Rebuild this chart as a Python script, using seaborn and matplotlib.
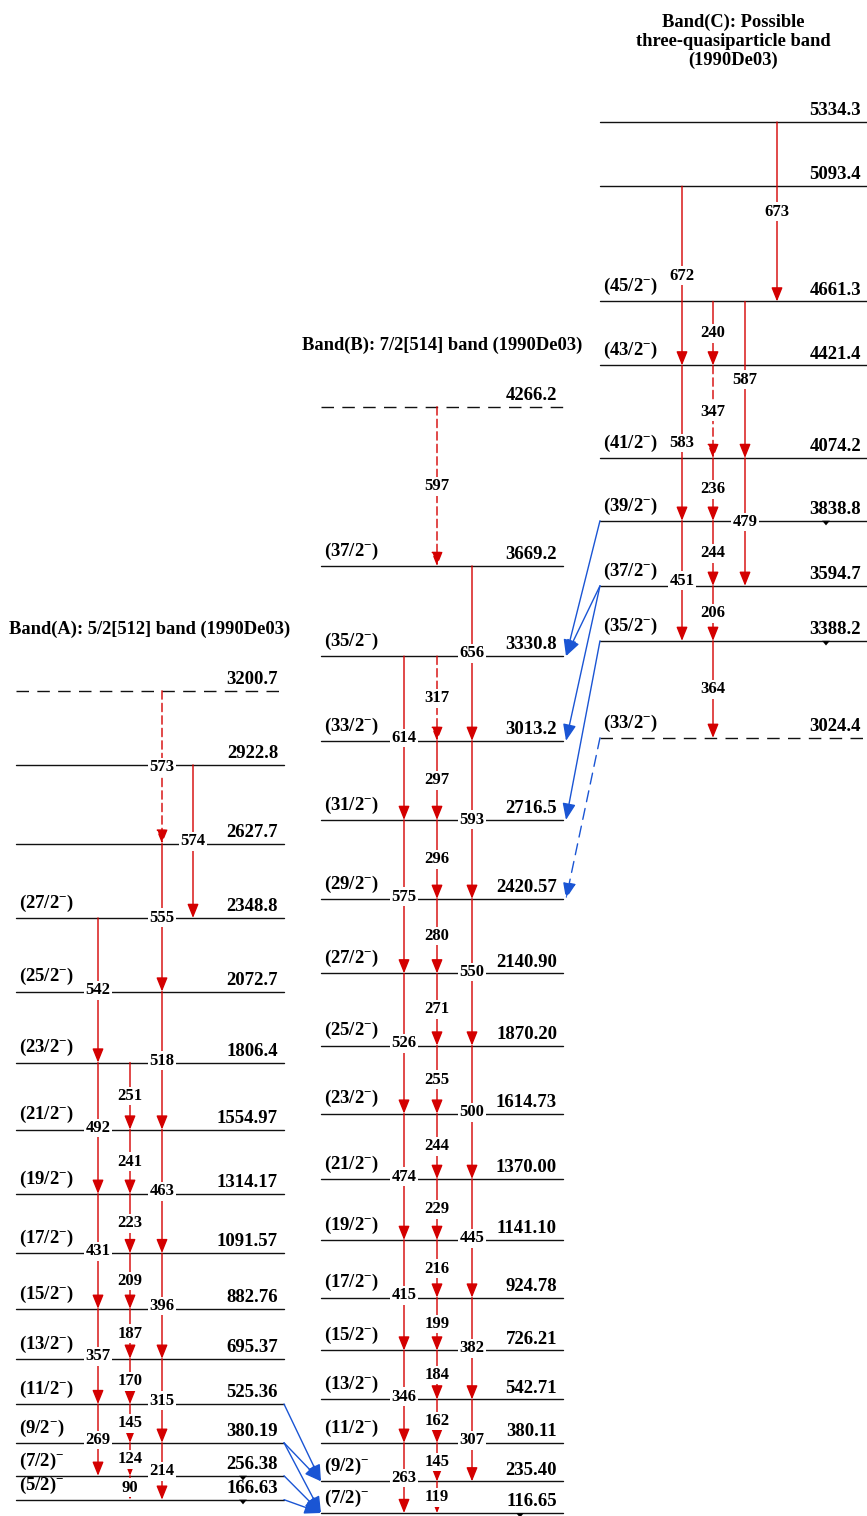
import numpy as np
import pandas as pd
import matplotlib
matplotlib.use('Agg')
import matplotlib.pyplot as plt
from matplotlib.patches import FancyArrowPatch
import seaborn as sns

# ---------------- data ----------------
# Band A: 5/2[512]
a_levels = ['166.63', '256.38', '380.19', '525.36', '695.37', '882.76', '1091.57', '1314.17',
            '1554.97', '1806.4', '2072.7', '2348.8', '2627.7', '2922.8', '3200.7']
a_spins = ['(5/2)$^{-}$', '(7/2)$^{-}$', '(9/2$^{-}$)', '(11/2$^{-}$)', '(13/2$^{-}$)', '(15/2$^{-}$)',
           '(17/2$^{-}$)', '(19/2$^{-}$)', '(21/2$^{-}$)', '(23/2$^{-}$)', '(25/2$^{-}$)', '(27/2$^{-}$)',
           '', '', '']
a_dashed_levels = ['3200.7']
a_out = ['256.38', '166.63']
# (from, to, gamma, column, dashed)
a_gammas = [
    ('2348.8', '1806.4', '542', 0, False), ('1806.4', '1314.17', '492', 0, False),
    ('1314.17', '882.76', '431', 0, False), ('882.76', '525.36', '357', 0, False),
    ('525.36', '256.38', '269', 0, False),
    ('1806.4', '1554.97', '251', 1, False), ('1554.97', '1314.17', '241', 1, False),
    ('1314.17', '1091.57', '223', 1, False), ('1091.57', '882.76', '209', 1, False),
    ('882.76', '695.37', '187', 1, False), ('695.37', '525.36', '170', 1, False),
    ('525.36', '380.19', '145', 1, False), ('380.19', '256.38', '124', 1, False),
    ('256.38', '166.63', '90', 1, False),
    ('3200.7', '2627.7', '573', 2, True), ('2627.7', '2072.7', '555', 2, False),
    ('2072.7', '1554.97', '518', 2, False), ('1554.97', '1091.57', '463', 2, False),
    ('1091.57', '695.37', '396', 2, False), ('695.37', '380.19', '315', 2, False),
    ('380.19', '166.63', '214', 2, False),
    ('2922.8', '2348.8', '574', 3, False),
]

# Band B: 7/2[514]
b_levels = ['116.65', '235.40', '380.11', '542.71', '726.21', '924.78', '1141.10', '1370.00',
            '1614.73', '1870.20', '2140.90', '2420.57', '2716.5', '3013.2', '3330.8', '3669.2', '4266.2']
b_spins = ['(7/2)$^{-}$', '(9/2)$^{-}$', '(11/2$^{-}$)', '(13/2$^{-}$)', '(15/2$^{-}$)', '(17/2$^{-}$)',
           '(19/2$^{-}$)', '(21/2$^{-}$)', '(23/2$^{-}$)', '(25/2$^{-}$)', '(27/2$^{-}$)', '(29/2$^{-}$)',
           '(31/2$^{-}$)', '(33/2$^{-}$)', '(35/2$^{-}$)', '(37/2$^{-}$)', '']
b_dashed_levels = ['4266.2']
b_out = ['116.65']
b_gammas = [
    ('3330.8', '2716.5', '614', 0, False), ('2716.5', '2140.90', '575', 0, False),
    ('2140.90', '1614.73', '526', 0, False), ('1614.73', '1141.10', '474', 0, False),
    ('1141.10', '726.21', '415', 0, False), ('726.21', '380.11', '346', 0, False),
    ('380.11', '116.65', '263', 0, False),
    ('4266.2', '3669.2', '597', 1, True), ('3330.8', '3013.2', '317', 1, True),
    ('3013.2', '2716.5', '297', 1, False), ('2716.5', '2420.57', '296', 1, False),
    ('2420.57', '2140.90', '280', 1, False), ('2140.90', '1870.20', '271', 1, False),
    ('1870.20', '1614.73', '255', 1, False), ('1614.73', '1370.00', '244', 1, False),
    ('1370.00', '1141.10', '229', 1, False), ('1141.10', '924.78', '216', 1, False),
    ('924.78', '726.21', '199', 1, False), ('726.21', '542.71', '184', 1, False),
    ('542.71', '380.11', '162', 1, False), ('380.11', '235.40', '145', 1, False),
    ('235.40', '116.65', '119', 1, False),
    ('3669.2', '3013.2', '656', 2, False), ('3013.2', '2420.57', '593', 2, False),
    ('2420.57', '1870.20', '550', 2, False), ('1870.20', '1370.00', '500', 2, False),
    ('1370.00', '924.78', '445', 2, False), ('924.78', '542.71', '382', 2, False),
    ('542.71', '235.40', '307', 2, False),
]

# Band C: possible three-quasiparticle band
c_levels = ['3024.4', '3388.2', '3594.7', '3838.8', '4074.2', '4421.4', '4661.3', '5093.4', '5334.3']
c_spins = ['(33/2$^{-}$)', '(35/2$^{-}$)', '(37/2$^{-}$)', '(39/2$^{-}$)', '(41/2$^{-}$)',
           '(43/2$^{-}$)', '(45/2$^{-}$)', '', '']
c_dashed_levels = ['3024.4']
c_out = ['3838.8', '3388.2']
c_gammas = [
    ('5093.4', '4421.4', '672', 0, False), ('4421.4', '3838.8', '583', 0, False),
    ('3838.8', '3388.2', '451', 0, False),
    ('4661.3', '4421.4', '240', 1, False), ('4421.4', '4074.2', '347', 1, True),
    ('4074.2', '3838.8', '236', 1, False), ('3838.8', '3594.7', '244', 1, False),
    ('3594.7', '3388.2', '206', 1, False), ('3388.2', '3024.4', '364', 1, False),
    ('4661.3', '4074.2', '587', 2, False), ('4074.2', '3594.7', '479', 2, False),
    ('5334.3', '4661.3', '673', 3, False),
]

# inter-band transitions (from level, to level, dashed)
ab_links = [('525.36', '235.40', False), ('380.19', '235.40', False), ('380.19', '116.65', False),
            ('256.38', '116.65', False), ('166.63', '116.65', False)]
cb_links = [('3838.8', '3330.8', False), ('3594.7', '3330.8', False), ('3594.7', '3013.2', False),
            ('3388.2', '2716.5', False), ('3024.4', '2420.57', True)]

titles = ['Band(A): 5/2[512] band (1990De03)',
          'Band(B): 7/2[514] band (1990De03)',
          'Band(C): Possible\nthree-quasiparticle band\n(1990De03)']

# ---------------- layout ----------------
bands = {
    'A': dict(x0=16, x1=284, cols=[98, 130, 162, 193], tri=243),
    'B': dict(x0=321, x1=563, cols=[404, 437, 472], tri=520),
    'C': dict(x0=600, x1=867, cols=[682, 713, 745, 777], tri=826),
}
RED = '#d40000'
BLUE = '#1a55d4'
LEVEL = '#111111'
RED_HEAD = '-|>,head_length=0.42,head_width=0.17'
BLUE_HEAD = '-|>,head_length=0.5,head_width=0.2'

sns.set_theme(style='white')
plt.rcParams['font.family'] = 'Liberation Serif'
plt.rcParams['font.weight'] = 'bold'
plt.rcParams['text.color'] = 'black'
plt.rcParams['mathtext.fontset'] = 'custom'
plt.rcParams['mathtext.rm'] = 'Liberation Serif:bold'
plt.rcParams['mathtext.it'] = 'Liberation Serif:bold:italic'
plt.rcParams['mathtext.bf'] = 'Liberation Serif:bold'

fig = plt.figure(figsize=(8.67, 15.16), dpi=100)
ax = fig.add_axes([0, 0, 1, 1])
ax.set_xlim(0, 867)
ax.set_ylim(105.4, 5792)
ax.axis('off')


def draw_band(key, levels, spins, dashed_levels, out, gammas, title):
    b = bands[key]
    for lev, spin in zip(levels, spins):
        e = float(lev)
        ls = (0, (9, 6)) if lev in dashed_levels else '-'
        ax.plot([b['x0'], b['x1']], [e, e], color=LEVEL, lw=1.0, ls=ls, zorder=2)
        ax.annotate(lev, (b['x1'] - 6, e), xytext=(0, 2), textcoords='offset points',
                    ha='right', va='bottom', fontsize=13.5, fontweight='bold', zorder=5)
        if spin:
            ax.annotate(spin, (b['x0'] + 3, e), xytext=(0, 3), textcoords='offset points',
                        ha='left', va='bottom', fontsize=13.5, fontweight='bold', zorder=5)
    for ei, ef, lab, col, dashed in gammas:
        x = b['cols'][col]
        e_i, e_f = float(ei), float(ef)
        arr = FancyArrowPatch((x, e_i), (x, e_f), arrowstyle=RED_HEAD,
                              mutation_scale=20, color=RED, lw=1.0,
                              linestyle=(0, (6, 3)) if dashed else '-',
                              shrinkA=0, shrinkB=0, zorder=3)
        ax.add_patch(arr)
        ax.text(x, (e_i + e_f) / 2, lab, ha='center', va='center', fontsize=12,
                fontweight='bold', zorder=6,
                bbox=dict(facecolor='white', edgecolor='none', pad=1.0))
    # small markers under levels that decay out of the band
    tri = pd.DataFrame({'x': [b['tri']] * len(out), 'E': [float(v) for v in out]})
    sns.scatterplot(data=tri, x='x', y='E', marker=[(-1, 0), (1, 0), (0, -1.2)], s=45,
                    color='black', edgecolor='none', ax=ax, legend=False, zorder=4)
    top = max(float(v) for v in levels)
    ax.annotate(title, ((b['x0'] + b['x1']) / 2, top), xytext=(0, 38), textcoords='offset points',
                ha='center', va='bottom', fontsize=13.3, fontweight='bold', linespacing=1.15)


draw_band('A', a_levels, a_spins, a_dashed_levels, a_out, a_gammas, titles[0])
draw_band('B', b_levels, b_spins, b_dashed_levels, b_out, b_gammas, titles[1])
draw_band('C', c_levels, c_spins, c_dashed_levels, c_out, c_gammas, titles[2])

for src, dst, dashed in ab_links:
    ax.add_patch(FancyArrowPatch((bands['A']['x1'], float(src)), (bands['B']['x0'], float(dst)),
                                 arrowstyle=BLUE_HEAD, mutation_scale=20,
                                 color=BLUE, lw=1.0, linestyle=(0, (6, 4)) if dashed else '-',
                                 shrinkA=0, shrinkB=0, zorder=3))
for src, dst, dashed in cb_links:
    ax.add_patch(FancyArrowPatch((bands['C']['x0'], float(src)), (bands['B']['x1'] + 3, float(dst)),
                                 arrowstyle=BLUE_HEAD, mutation_scale=20,
                                 color=BLUE, lw=1.0, linestyle=(0, (8, 5)) if dashed else '-',
                                 shrinkA=0, shrinkB=0, zorder=3))
ax.set_ylim(105.4, 5792)
ax.set_xlim(0, 867)

fig.savefig('out.png', dpi=100)
